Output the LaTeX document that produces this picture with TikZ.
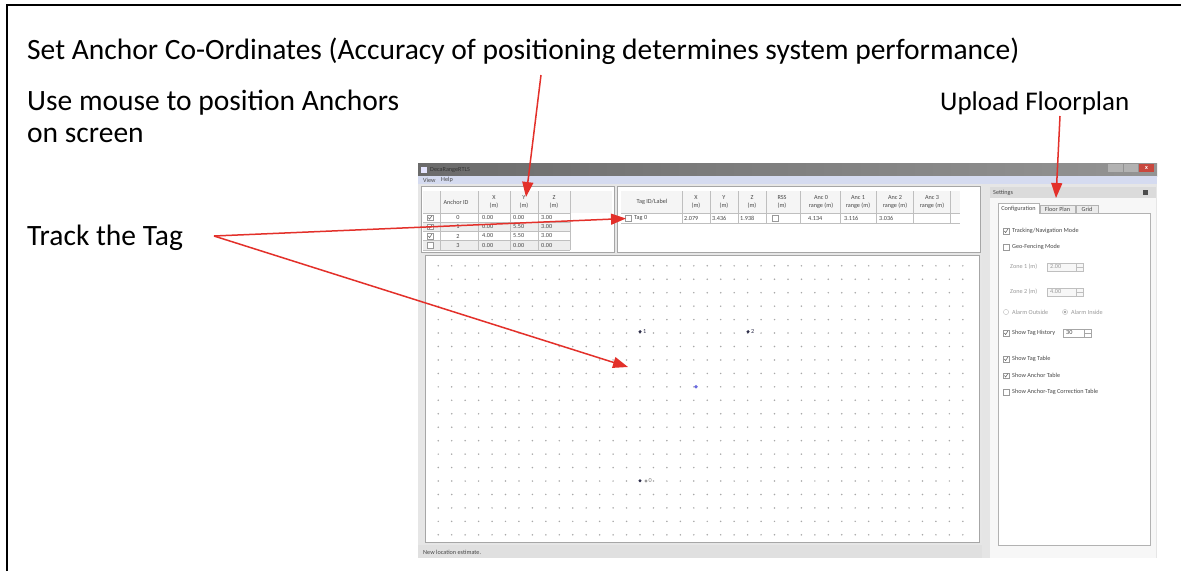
\documentclass[tikz,border=0pt]{standalone}
\usepackage{fontspec}
\setmainfont{Carlito}
\usetikzlibrary{arrows.meta}
\definecolor{ared}{HTML}{E3302A}
\definecolor{winbg}{HTML}{E6E6E6}
\definecolor{menub}{HTML}{D5DBF0}
\definecolor{dotc}{HTML}{A8A8A8}
\definecolor{ancc}{HTML}{2E2E4A}
\definecolor{tagc}{HTML}{6A6AE0}
\definecolor{closec}{HTML}{C8483E}
\newcommand{\mycb}[3]{% x, y, checked (1/0)
  \filldraw[fill=white,draw=black!40,line width=0.3pt] (#1-2.8,#2-2.8) rectangle (#1+2.8,#2+2.8);
  \ifnum#3=1 \draw[black!60,line width=0.55pt] (#1-1.7,#2) -- (#1-0.4,#2+1.5) -- (#1+1.8,#2-1.8);\fi}
\begin{document}
\begin{tikzpicture}[x=1pt,y=-1pt,
  ann/.style={anchor=base west, inner sep=0, font=\fontsize{29.5}{34}\selectfont, text=black},
  gui/.style={inner sep=0, font=\fontsize{6.2}{7.6}\selectfont, text=black!72},
  guid/.style={gui, text=black!40},
  hdr/.style={gui, align=center},
  arr/.style={draw=ared, line width=1.5pt, -{Triangle[length=15pt,width=11pt]}},
  tline/.style={draw=black!25, line width=0.3pt},
]
\useasboundingbox (0,0) rectangle (1181,571);
\fill[white] (0,0) rectangle (1181,571);
\draw[line width=2pt] (7,571) -- (7,5) -- (1181,5);

% ---------- application window ----------
\fill[winbg] (418,163) rectangle (1157,558);
\shade[left color=black!58, right color=black!42] (418,163) rectangle (1157,176);
\fill[white!90!blue] (421,166.5) rectangle (427,173);
\node[gui, anchor=west, text=black!80] (title) at (430,169.8) {DecaRangeRTLS};
\fill[black!30] (1108,164) rectangle (1123,172);
\fill[black!30] (1124,164) rectangle (1138,172);
\fill[closec] (1139,164) rectangle (1154,172);
\node[gui, text=white] at (1146.5,168) {\textbf{x}};
\fill[menub] (418,176) rectangle (1157,184);
\node[gui, anchor=west] (mview) at (423,180.3) {View};
\node[gui, anchor=west] (mhelp) at (441,180.3) {Help};

% ---------- anchor table ----------
\filldraw[fill=white, draw=black!35, line width=0.4pt] (421,186) rectangle (614,252);
\fill[black!4] (423,191) rectangle (612,213);
\foreach \k in {1,3} \fill[black!7] (423,{213+\k*9.2}) rectangle (570,{213+(\k+1)*9.2});
\foreach \xx in {440,478,510,538,570} \draw[tline] (\xx,191) -- (\xx,249.8);
\foreach \k in {0,...,4} \draw[tline] (423,{213+\k*9.2}) -- (570,{213+\k*9.2});
\node[hdr] (hid) at (456,202) {Anchor ID};
\node[hdr] (hx) at (494,202) {X\\(m)};
\node[hdr] (hy) at (524,202) {Y\\(m)};
\node[hdr] (hz) at (554,202) {Z\\(m)};
\foreach \k/\id/\vx/\vy/\vz/\c in {0/0/0.00/0.00/3.00/1, 1/1/0.00/5.50/3.00/1, 2/2/4.00/5.50/3.00/1, 3/3/0.00/0.00/0.00/0}{
  \mycb{430}{217.6+\k*9.2}{\c}
  \node[gui] at (458,{217.6+\k*9.2}) {\id};
  \node[gui, anchor=west] at (482,{217.6+\k*9.2}) {\vx};
  \node[gui, anchor=west] at (513,{217.6+\k*9.2}) {\vy};
  \node[gui, anchor=west] at (541,{217.6+\k*9.2}) {\vz};
}
\coordinate (ytarget) at (526,197);

% ---------- tag table ----------
\filldraw[fill=white, draw=black!35, line width=0.4pt] (617,186) rectangle (980,252);
\fill[black!4] (621,191) rectangle (960,213);
\foreach \xx in {682,710,738,766,800,840,876,913,950} \draw[tline] (\xx,191) -- (\xx,223);
\draw[tline] (621,213) -- (960,213);
\draw[tline] (621,223) -- (960,223);
\node[hdr] (tid) at (652,202) {Tag ID/Label};
\node[hdr] at (696,202) {X\\(m)};
\node[hdr] at (724,202) {Y\\(m)};
\node[hdr] at (752,202) {Z\\(m)};
\node[hdr] at (782,202) {RSS\\(m)};
\node[hdr] at (821,202) {Anc 0\\range (m)};
\node[hdr] at (858,202) {Anc 1\\range (m)};
\node[hdr] at (895,202) {Anc 2\\range (m)};
\node[hdr] at (932,202) {Anc 3\\range (m)};
\mycb{628}{218.3}{0}
\coordinate (tagcb) at (626,218.5);
\node[gui, anchor=west] at (634,218.3) {Tag 0};
\node[gui, anchor=west] at (684,218.3) {2.079};
\node[gui, anchor=west] at (712,218.3) {3.436};
\node[gui, anchor=west] at (740,218.3) {1.938};
\mycb{775}{218.3}{0}
\node[gui, anchor=west] at (808,218.3) {4.134};
\node[gui, anchor=west] at (844,218.3) {3.116};
\node[gui, anchor=west] at (879,218.3) {3.036};

% ---------- grid view ----------
\filldraw[fill=white, draw=black!35, line width=0.4pt] (425,255) rectangle (979,542);
\foreach \i in {-15,...,24}{
  \foreach \j in {-16,...,4}{
    \fill[dotc] ({640+\i*13.45},{481+\j*13.45}) circle (0.85);
  }
}
\fill[ancc] (640,331.7) circle (1.7);
\node[gui, anchor=west, text=ancc] (a1) at (643,331.7) {1};
\fill[ancc] (748,331.7) circle (1.7);
\node[gui, anchor=west, text=ancc] (a2) at (751,331.7) {2};
\fill[ancc] (640,480.7) circle (1.7);
\fill[black!40] (646,481) circle (1.7);
\node[gui, anchor=west, text=black!50] (a0) at (648.5,481) {0};
\fill[tagc] (696,386.7) circle (1.9);
\coordinate (gridtarget) at (628,367);

% ---------- status bar ----------
\fill[black!12] (418,545) rectangle (982,558);
\node[gui, anchor=west] (status) at (423,552.5) {New location estimate.};

% ---------- settings panel ----------
\fill[black!10] (982,184) rectangle (990,558);
\fill[black!14] (990,187) rectangle (1156,198);
\node[gui, anchor=west] (settings) at (993,192.5) {Settings};
\fill[black!70] (1143,190) rectangle (1148,195);
\fill[black!3] (990,198) rectangle (1156,558);
\filldraw[fill=white, draw=black!30, line width=0.4pt] (998,213) rectangle (1150,545);
\filldraw[fill=white, draw=black!30, line width=0.4pt] (998,203) rectangle (1039,213);
\draw[white, line width=0.8pt] (998.5,213) -- (1038.5,213);
\filldraw[fill=black!8, draw=black!30, line width=0.4pt] (1040,205) rectangle (1075,213);
\filldraw[fill=black!8, draw=black!30, line width=0.4pt] (1076,205) rectangle (1098,213);
\node[gui] (tcfg) at (1018.5,208.5) {Configuration};
\node[gui] (tfloor) at (1057.5,209.3) {Floor Plan};
\node[gui] (tgrid) at (1087,209.3) {Grid};
\coordinate (floortarget) at (1056,198);

\mycb{1006}{231}{1}
\node[gui, anchor=west] at (1012,231) {Tracking/Navigation Mode};
\mycb{1006}{247}{0}
\node[gui, anchor=west] at (1012,247) {Geo-Fencing Mode};
\node[guid, anchor=west] at (1010,267) {Zone 1 (m)};
\filldraw[fill=black!3, draw=black!25, line width=0.3pt] (1047,263) rectangle (1083,271);
\node[guid, anchor=west] at (1050,267) {2.00};
\draw[black!25, line width=0.3pt] (1076,263) -- (1076,271) (1076,267) -- (1083,267);
\node[guid, anchor=west] at (1010,292) {Zone 2 (m)};
\filldraw[fill=black!3, draw=black!25, line width=0.3pt] (1047,288) rectangle (1083,296);
\node[guid, anchor=west] at (1050,292) {4.00};
\draw[black!25, line width=0.3pt] (1076,288) -- (1076,296) (1076,292) -- (1083,292);
\draw[black!30, line width=0.3pt] (1006,312) circle (2.6);
\node[guid, anchor=west] at (1012,312) {Alarm Outside};
\draw[black!30, line width=0.3pt] (1065,312) circle (2.6);
\fill[black!35] (1065,312) circle (1.3);
\node[guid, anchor=west] at (1071,312) {Alarm Inside};
\mycb{1006}{333}{1}
\node[gui, anchor=west] at (1012,333) {Show Tag History};
\filldraw[fill=white, draw=black!35, line width=0.3pt] (1063,329) rectangle (1091,337);
\node[gui, anchor=west] at (1066,333) {30};
\draw[black!35, line width=0.3pt] (1084,329) -- (1084,337) (1084,333) -- (1091,333);
\mycb{1006}{359}{1}
\node[gui, anchor=west] at (1012,359) {Show Tag Table};
\mycb{1006}{375.5}{1}
\node[gui, anchor=west] at (1012,375.5) {Show Anchor Table};
\mycb{1006}{392}{0}
\node[gui, anchor=west] at (1012,392) {Show Anchor-Tag Correction Table};

% ---------- annotations ----------
\node[ann] (setanc) at (27,59) {Set Anchor Co-Ordinates (Accuracy of positioning determines system performance)};
\node[ann] (usemouse) at (27,110) {Use mouse to position Anchors};
\node[ann] (onscreen) at (27,142) {on screen};
\node[ann] (track) at (27,245) {Track the Tag};
\node[ann, font=\fontsize{27}{32}\selectfont] (upload) at (940,110) {Upload Floorplan};
\coordinate (setstart) at (541,75);
\coordinate (trackstart) at (214,236);
\coordinate (upstart) at (1060,116);
\draw[arr] (setstart) -- (ytarget);
\draw[arr] (trackstart) -- (tagcb);
\draw[arr] (trackstart) -- (gridtarget);
\draw[arr] (upstart) -- (floortarget);
\end{tikzpicture}
\end{document}
